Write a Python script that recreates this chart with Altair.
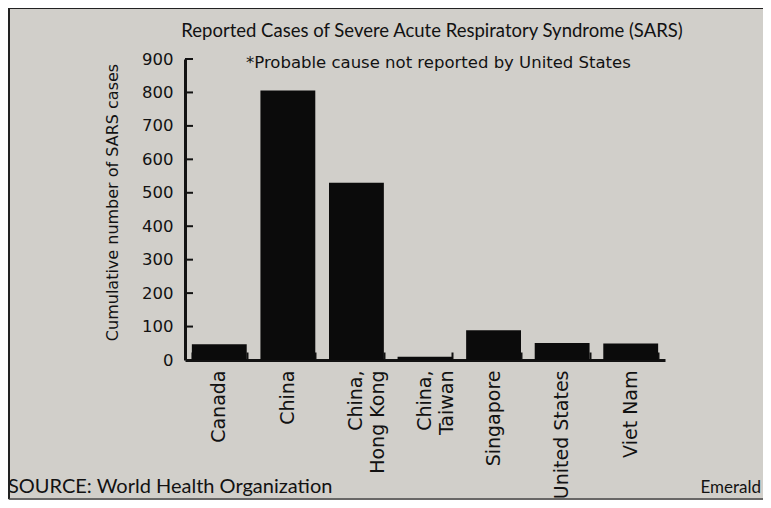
import altair as alt
import pandas as pd

countries = ["Canada", "China", "China,\nHong Kong", "China,\nTaiwan", "Singapore", "United States", "Viet Nam"]
cases = [47, 806, 530, 10, 89, 51, 49]
y_ticks = [0, 100, 200, 300, 400, 500, 600, 700, 800, 900]

title_text = "Reported Cases of Severe Acute Respiratory Syndrome (SARS)"
note_text = "*Probable cause not reported by United States"
source_text = "SOURCE: World Health Organization"
credit_text = "Emerald"
y_title = "Cumulative number of SARS cases"

df = pd.DataFrame({"country": countries, "cases": cases})
tick_df = pd.DataFrame({"v": y_ticks[1:]})
one = pd.DataFrame({"k": [0]})

BG = "#d1cfca"
LBL = "DejaVu Sans"
INK = "#121212"

xscale = alt.Scale(domain=countries, paddingInner=0.2, paddingOuter=0.1)
yscale = alt.Scale(domain=[0, 900], nice=False)

bars = alt.Chart(df).mark_bar(color="#0b0b0b").encode(
    x=alt.X("country:N", sort=countries, scale=xscale,
            axis=alt.Axis(title=None, labelAngle=-90, labelFont=LBL, labelFontSize=19,
                          labelColor=INK, labelPadding=10, ticks=False,
                          domainColor=INK, domainWidth=3,
                          labelExpr="split(datum.label, '\\n')", labelLineHeight=22)),
    y=alt.Y("cases:Q", scale=yscale,
            axis=alt.Axis(title=y_title, values=y_ticks, grid=False, ticks=False,
                          labelFont=LBL, labelFontSize=16.5, labelColor=INK, labelPadding=12,
                          domainColor=INK, domainWidth=3,
                          titleFont=LBL, titleFontSize=16, titleFontWeight="normal",
                          titleColor=INK, titleAngle=-90, titleBaseline="middle",
                          titleAlign="center", titleX=-73, titleY=143)),
)

xtick_layer = alt.Chart(df).mark_bar(opacity=0).encode(
    x=alt.X("country:N", sort=countries, scale=xscale,
            axis=alt.Axis(title=None, labels=False, domain=False, offset=-8, tickSize=8,
                          tickWidth=2, tickColor=INK, tickBand="extent", orient="bottom")),
    y=alt.Y("cases:Q", scale=yscale, axis=None),
)

ytick_layer = alt.Chart(tick_df).mark_rule(color=INK, strokeWidth=2).encode(
    y=alt.Y("v:Q", scale=yscale, axis=None),
    x=alt.value(0), x2=alt.value(8),
)

title_mark = alt.Chart(one).mark_text(font="Lato", fontSize=18.5, color=INK, align="center",
                                       baseline="alphabetic").encode(
    x=alt.value(247), y=alt.value(-22), text=alt.value(title_text))
note_mark = alt.Chart(one).mark_text(font=LBL, fontSize=16.5, color=INK, align="left",
                                      baseline="alphabetic").encode(
    x=alt.value(61), y=alt.value(9), text=alt.value(note_text))
source_mark = alt.Chart(one).mark_text(font="Lato", fontSize=20, color=INK, align="left",
                                        baseline="alphabetic").encode(
    x=alt.value(-177), y=alt.value(434), text=alt.value(source_text))
credit_mark = alt.Chart(one).mark_text(font="Lato", fontSize=17, color=INK, align="right",
                                        baseline="alphabetic").encode(
    x=alt.value(576), y=alt.value(434), text=alt.value(credit_text))

frame_top = alt.Chart(one).mark_rule(color="#222", strokeWidth=2).encode(
    x=alt.value(-176), x2=alt.value(590), y=alt.value(-51))
frame_left = alt.Chart(one).mark_rule(color="#222", strokeWidth=2).encode(
    x=alt.value(-176), y=alt.value(-51), y2=alt.value(440))
frame_bottom = alt.Chart(one).mark_rule(color="#444", strokeWidth=1.5).encode(
    x=alt.value(-176), x2=alt.value(590), y=alt.value(440))

chart = alt.layer(
    bars, xtick_layer, ytick_layer, title_mark, note_mark, source_mark, credit_mark,
    frame_top, frame_left, frame_bottom
).resolve_axis(x="independent", y="independent").properties(
    width=480, height=301,
    autosize=alt.AutoSizeParams(type="none"),
    padding={"left": 177, "top": 51, "right": 98, "bottom": 140},
    background=BG,
).configure_view(stroke=None)

chart.save("out.html", embed_options={"renderer": "svg", "actions": False})
